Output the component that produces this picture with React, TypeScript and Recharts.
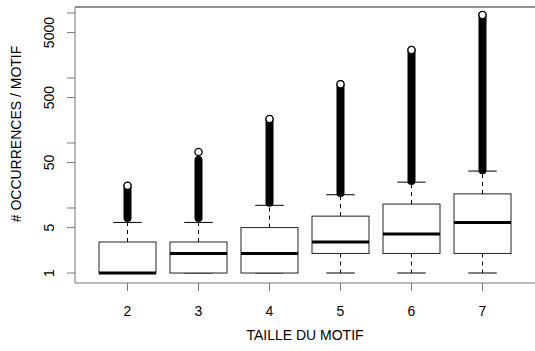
import React from 'react';
import { ComposedChart, Bar, Scatter, XAxis, YAxis, ReferenceLine } from 'recharts';

// motif sizes and boxplot stats (occurrences per motif, log scale)
const categories = ['2', '3', '4', '5', '6', '7'];
const lowerWhisker = [1, 1, 1, 1, 1, 1];
const q1 = [1, 1, 1, 2, 2, 2];
const median = [1, 2, 2, 3, 4, 6];
const q3 = [3, 3, 5, 7.5, 11.5, 16.5];
const upperWhisker = [6, 6, 11, 16, 25, 37];
const outlierLow = [7, 7, 12, 17, 26, 38];
const outlierHigh = [22, 55, 234, 800, 2700, 9300];
const maxOutlier = [22, 73, 234, 800, 2700, 9300];

const yTicks = [1, 5, 10, 50, 100, 500, 1000, 5000, 10000];
const yLabels = [1, 5, 50, 500, 5000];

const FONT = '"Liberation Sans", Arial, Helvetica, sans-serif';
const AXIS = '#777';

const data = categories.map((cat, i) => ({
  cat,
  range: [lowerWhisker[i], outlierHigh[i]],
  lo: lowerWhisker[i],
  q1: q1[i],
  med: median[i],
  q3: q3[i],
  hi: upperWhisker[i],
  outLow: outlierLow[i],
  outHigh: outlierHigh[i],
  top: maxOutlier[i],
}));

const BoxShape = (props: any) => {
  const { x, y, width, height, payload } = props;
  const lo = payload.lo;
  const hi = payload.outHigh;
  const py = (v: number) => y + height * (1 - Math.log(v / lo) / Math.log(hi / lo));
  const cx = x + width / 2;
  const cap = width / 4;
  return (
    <g>
      {/* outliers */}
      <line x1={cx} x2={cx} y1={py(payload.outLow)} y2={py(payload.outHigh)} stroke="#000" strokeWidth={8} strokeLinecap="round" />
      {/* whiskers */}
      <line x1={cx} x2={cx} y1={py(payload.q3)} y2={py(payload.hi)} stroke="#000" strokeDasharray="4 4" />
      <line x1={cx} x2={cx} y1={py(payload.q1)} y2={py(payload.lo)} stroke="#000" strokeDasharray="4 4" />
      <line x1={cx - cap} x2={cx + cap} y1={py(payload.hi)} y2={py(payload.hi)} stroke="#000" />
      <line x1={cx - cap} x2={cx + cap} y1={py(payload.lo)} y2={py(payload.lo)} stroke="#000" />
      {/* box */}
      <rect x={x} y={py(payload.q3)} width={width} height={py(payload.q1) - py(payload.q3)} fill="#fff" stroke="#222" />
      <line x1={x} x2={x + width} y1={py(payload.med)} y2={py(payload.med)} stroke="#000" strokeWidth={3} />
    </g>
  );
};

const Circle = (props: any) => (
  <circle cx={props.cx} cy={props.cy} r={3.6} fill="#fff" stroke="#000" strokeWidth={1.3} />
);

const YTick = (props: any) => {
  const { x, y, payload } = props;
  if (!yLabels.includes(payload.value)) return null;
  return (
    <text transform={`translate(${x - 11},${y}) rotate(-90)`} textAnchor="middle" fontSize={14} fontFamily={FONT} fill="#000">
      {payload.value}
    </text>
  );
};

const YLabel = (props: any) => {
  const { x, y, height } = props.viewBox;
  return (
    <text transform={`translate(${x + 21},${y + height / 2 - 11}) rotate(-90)`} textAnchor="middle" fontSize={14} fontFamily={FONT} fill="#000">
      # OCCURRENCES / MOTIF
    </text>
  );
};

export default function App() {
  return (
    <div style={{ position: 'absolute', left: 0, top: 0, width: 535, height: 351, background: '#fff' }}>
      <ComposedChart width={535} height={351} data={data} margin={{ top: 7, right: 0, bottom: 0, left: 0 }}>
        <XAxis
          dataKey="cat"
          height={68}
          padding={{ left: 17, right: 17 }}
          tickSize={8}
          tickMargin={15}
          stroke={AXIS}
          tick={{ fill: '#000', fontSize: 14, fontFamily: FONT }}
          label={{ value: 'TAILLE DU MOTIF', position: 'insideBottom', offset: 11, fill: '#000', fontSize: 14, fontFamily: FONT }}
        />
        <YAxis
          scale="log"
          domain={[0.702, 12370]}
          allowDataOverflow
          ticks={yTicks}
          interval={0}
          width={75}
          tickSize={8}
          stroke={AXIS}
          tick={<YTick />}
          label={<YLabel />}
        />
        <ReferenceLine y={12370} stroke="#222" />
        <Bar dataKey="range" barSize={57} shape={<BoxShape />} isAnimationActive={false} />
        <Scatter dataKey="top" shape={<Circle />} isAnimationActive={false} />
      </ComposedChart>
    </div>
  );
}
